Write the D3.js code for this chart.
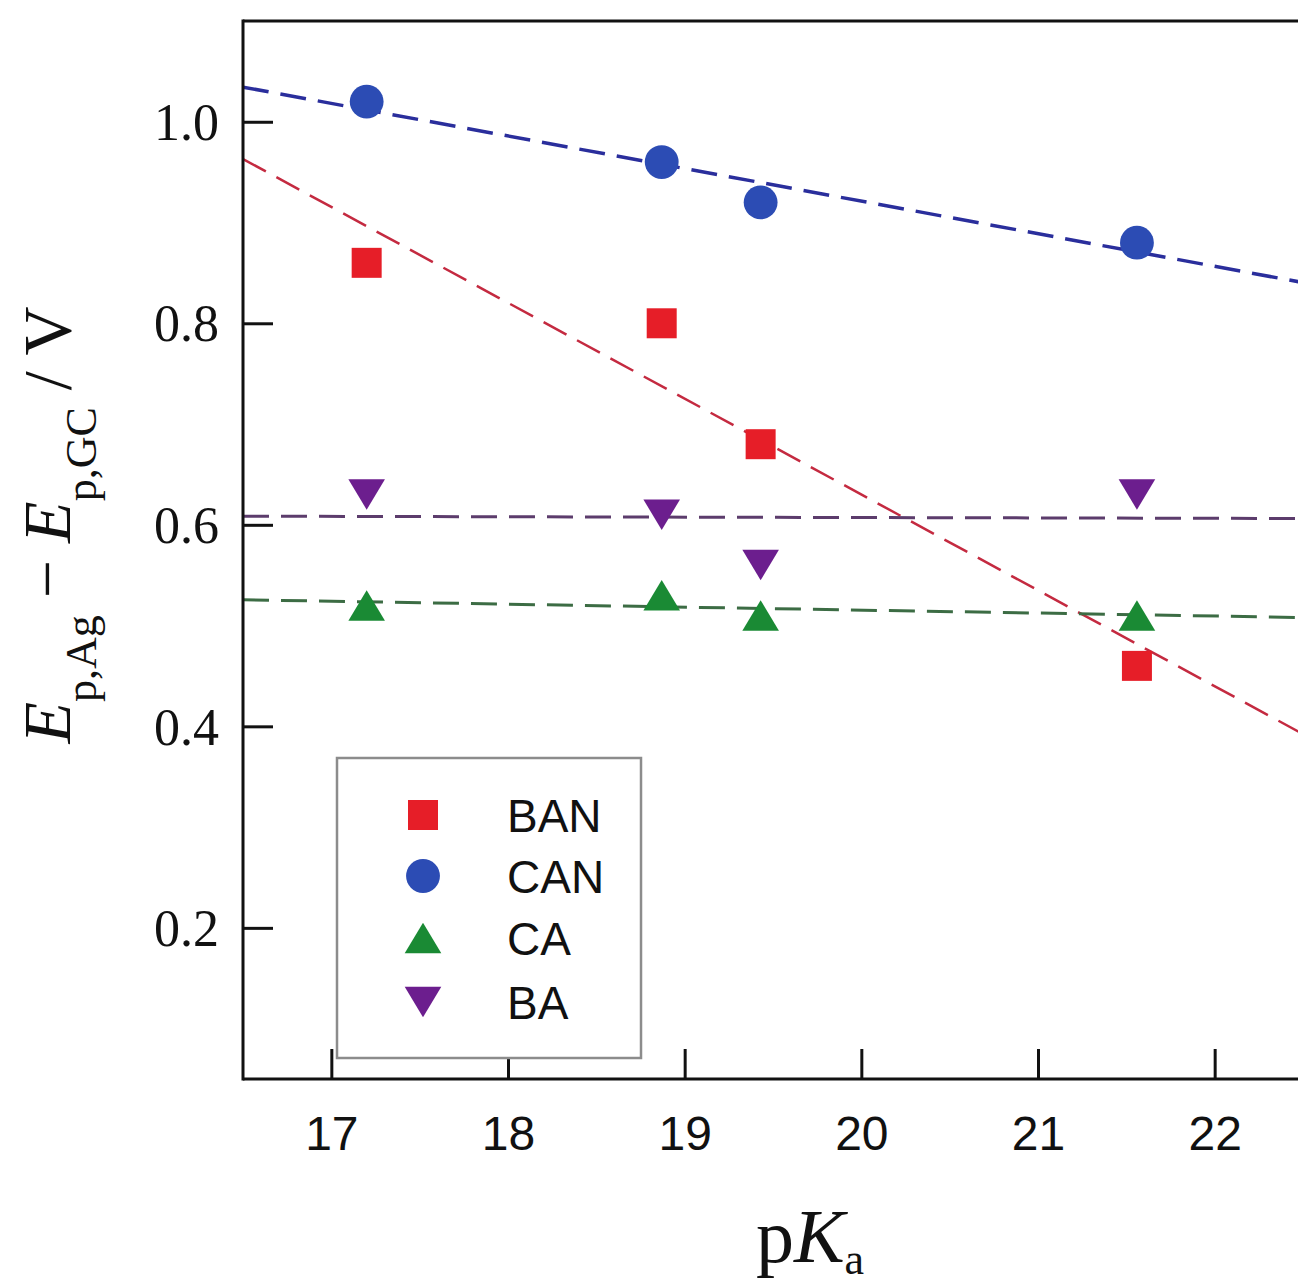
<!DOCTYPE html>
<html>
<head>
<meta charset="utf-8">
<script src="https://cdn.jsdelivr.net/npm/d3@7"></script>
<style>
    body {margin:0;background:#fff;}
    svg {display:block;}
    .serif {font-family:"Liberation Serif","Times New Roman",serif;}
    .sans {font-family:"Liberation Sans",Arial,sans-serif;}
</style>
</head>
<body>
<svg id="chart" width="1298" height="1285"></svg>
<script>
//////////////data
var pKa = [17.2, 18.87, 19.43, 21.56];
var BAN = [0.86, 0.80, 0.68, 0.46];
var CAN = [1.02, 0.96, 0.92, 0.88];
var CA = [0.52, 0.53, 0.51, 0.51];
var BA = [0.63, 0.61, 0.56, 0.63];
var seriesNames = ["BAN", "CAN", "CA", "BA"];
var xTicks = [17, 18, 19, 20, 21, 22];
var yTicks = [0.2, 0.4, 0.6, 0.8, 1.0];

var space = {left: 243, top: 21, right: 1303, bottom: 1079};

// bbox-centered triangles (plot software centers them this way)
var triUp = {draw: function (ctx, size) {
    var s = Math.sqrt(size);
    ctx.moveTo(0, -s / 2); ctx.lineTo(s * 0.6, s / 2); ctx.lineTo(-s * 0.6, s / 2); ctx.closePath();
}};
var triDown = {draw: function (ctx, size) {
    var s = Math.sqrt(size);
    ctx.moveTo(0, s / 2); ctx.lineTo(s * 0.6, -s / 2); ctx.lineTo(-s * 0.6, -s / 2); ctx.closePath();
}};

var style = {
    BAN: {values: BAN, symbol: d3.symbolSquare, size: 900, fill: "#e61e28", line: "#c42a40", lw: 2.5},
    CAN: {values: CAN, symbol: d3.symbolCircle, size: 900, fill: "#2c4cb4", line: "#2a2e9c", lw: 3.5},
    CA: {values: CA, symbol: triUp, size: 930, fill: "#1a8a34", line: "#3c6c44", lw: 3},
    BA: {values: BA, symbol: triDown, size: 930, fill: "#6c1e8e", line: "#5c3c6c", lw: 3}
};

var svg = d3.select("#chart");
var x = d3.scaleLinear().domain([16.5, 22.5]).range([space.left, space.right]);
var y = d3.scaleLinear().domain([0.05, 1.1]).range([space.bottom, space.top]);

svg.append("clipPath").attr("id", "plotClip")
    .append("rect")
    .attr("x", space.left).attr("y", space.top)
    .attr("width", space.right - space.left).attr("height", space.bottom - space.top);

//least squares fit for each series
function fitLine(xs, ys) {
    var mx = d3.mean(xs), my = d3.mean(ys), sxy = 0, sxx = 0;
    for (var i = 0; i < xs.length; i++) {
        sxy += (xs[i] - mx) * (ys[i] - my);
        sxx += (xs[i] - mx) * (xs[i] - mx);
    }
    var slope = sxy / sxx;
    return function (v) { return my + slope * (v - mx) };
}

var lineGen = d3.line().x(function (d) { return x(d[0]) }).y(function (d) { return y(d[1]) });
var fitG = svg.append("g").attr("clip-path", "url(#plotClip)");
seriesNames.forEach(function (name) {
    var st = style[name];
    var f = fitLine(pKa, st.values);
    var dom = x.domain();
    fitG.append("path")
        .datum([[dom[0], f(dom[0])], [dom[1], f(dom[1])]])
        .attr("d", lineGen)
        .attr("fill", "none")
        .attr("stroke", st.line)
        .attr("stroke-width", st.lw)
        .attr("stroke-dasharray", "26,12");
});

//markers
seriesNames.forEach(function (name) {
    var st = style[name];
    svg.append("g").selectAll("path")
        .data(pKa.map(function (p, i) { return [p, st.values[i]] }))
        .enter()
        .append("path")
        .attr("d", d3.symbol().type(st.symbol).size(st.size))
        .attr("transform", function (d) { return "translate(" + x(d[0]) + "," + y(d[1]) + ")" })
        .attr("fill", st.fill);
});

//frame + axes, ticks point inward
svg.append("line").attr("x1", space.left).attr("x2", space.right + 10)
    .attr("y1", space.top).attr("y2", space.top)
    .attr("stroke", "#111").attr("stroke-width", 3);

var xAxis = d3.axisBottom(x).tickValues(xTicks).tickSize(-30).tickFormat(d3.format("d"));
var gx = svg.append("g").attr("transform", "translate(0," + space.bottom + ")").call(xAxis);
gx.select(".domain").attr("stroke", "#111").attr("stroke-width", 3)
    .attr("d", "M" + space.left + ",0H" + (space.right + 10));
gx.selectAll(".tick line").attr("stroke", "#111").attr("stroke-width", 3);
gx.selectAll(".tick text").attr("class", "sans")
    .attr("font-size", 48).attr("fill", "#111")
    .attr("y", 71).attr("dy", 0);

var yAxis = d3.axisLeft(y).tickValues(yTicks).tickSize(-30).tickFormat(d3.format(".1f"));
var gy = svg.append("g").attr("transform", "translate(" + space.left + ",0)").call(yAxis);
gy.select(".domain").attr("stroke", "#111").attr("stroke-width", 3)
    .attr("d", "M0," + (space.top - 1.5) + "V" + (space.bottom + 1.5));
gy.selectAll(".tick line").attr("stroke", "#111").attr("stroke-width", 3);
gy.selectAll(".tick text").attr("class", "serif")
    .attr("font-size", 52).attr("fill", "#111")
    .attr("x", -24).attr("dy", "0.34em");

//axis titles
var xt = svg.append("text").attr("class", "serif")
    .attr("x", 810).attr("y", 1262)
    .attr("text-anchor", "middle").attr("font-size", 76).attr("fill", "#111");
xt.append("tspan").text("p");
xt.append("tspan").attr("font-style", "italic").text("K");
xt.append("tspan").attr("font-size", 44).attr("dy", 12).text("a");

var yt = svg.append("text").attr("class", "serif")
    .attr("transform", "translate(70,525) rotate(-90)")
    .attr("text-anchor", "middle").attr("font-size", 68).attr("fill", "#111");
yt.append("tspan").attr("font-style", "italic").text("E");
yt.append("tspan").attr("font-size", 44).attr("dy", 26).text("p,Ag");
yt.append("tspan").attr("dy", -26).text(" \u2212 ");
yt.append("tspan").attr("font-style", "italic").text("E");
yt.append("tspan").attr("font-size", 44).attr("dy", 26).text("p,GC");
yt.append("tspan").attr("dy", -26).text(" / V");

//legend
var legend = svg.append("g");
legend.append("rect")
    .attr("x", 337).attr("y", 758).attr("width", 304).attr("height", 300)
    .attr("fill", "#fff").attr("stroke", "#8c8c8c").attr("stroke-width", 2.5);
var legendRows = [815, 876, 938, 1002];
seriesNames.forEach(function (name, i) {
    var st = style[name];
    legend.append("path")
        .attr("d", d3.symbol().type(st.symbol).size(st.size))
        .attr("transform", "translate(423," + legendRows[i] + ")")
        .attr("fill", st.fill);
    legend.append("text").attr("class", "sans")
        .attr("x", 507).attr("y", legendRows[i] + 17)
        .attr("font-size", 46).attr("fill", "#111")
        .text(name);
});
</script>
</body>
</html>
